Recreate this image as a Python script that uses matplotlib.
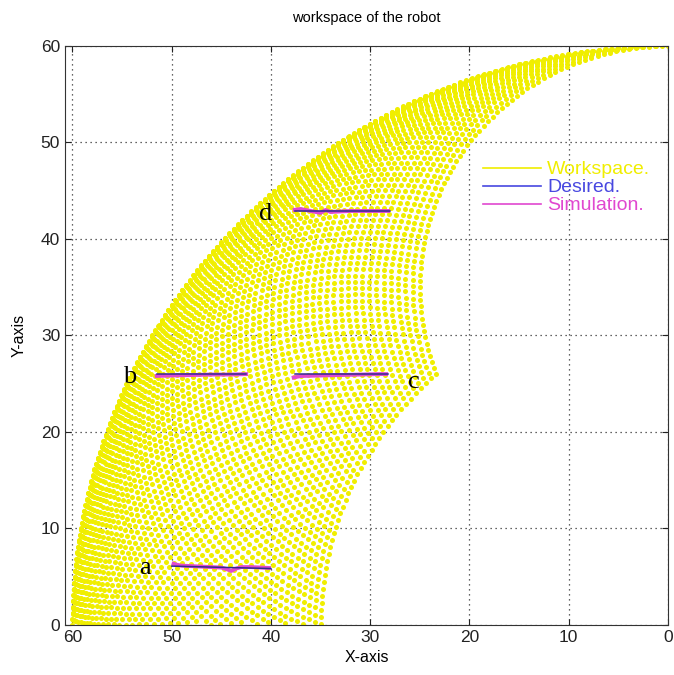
import numpy as np
import matplotlib
matplotlib.use("Agg")
import matplotlib.pyplot as plt

plt.rcParams["font.family"] = ["Liberation Sans", "DejaVu Sans"]

# ── Robot geometry (two-link arm, elbow bending clockwise) ─────────────
L1 = 35.0
L2 = 25.0
THETA1_DEG = np.arange(0.0, 90.01, 1.2)
THETA2_DEG = np.arange(0.0, -111.01, -1.5)

# ── Trajectories: desired (straight) and simulated (tracked) ───────────
a_des_x = [50.0, 40.0]
a_des_y = [6.1, 5.85]
a_sim_x = [50.0, 49.5, 49.0, 48.0, 47.0, 46.0, 45.0, 44.5, 44.0, 43.5, 43.0, 42.0, 41.0, 40.0]
a_sim_y = [6.4, 6.25, 6.15, 6.1, 6.05, 6.0, 5.95, 5.8, 5.6, 5.85, 6.0, 6.0, 5.95, 5.9]

b_des_x = [51.5, 42.5]
b_des_y = [26.0, 26.0]
b_sim_x = [51.7, 50.0, 48.0, 46.0, 44.0, 42.3]
b_sim_y = [25.8, 25.85, 25.9, 25.95, 25.95, 26.0]

c_des_x = [37.6, 28.2]
c_des_y = [26.0, 26.0]
c_sim_x = [37.9, 37.0, 35.0, 33.0, 31.0, 29.0, 28.2]
c_sim_y = [25.6, 25.8, 25.85, 25.9, 25.95, 26.0, 26.0]

d_des_x = [37.6, 28.0]
d_des_y = [42.9, 42.9]
d_sim_x = [37.8, 37.0, 36.0, 35.0, 34.5, 34.0, 33.0, 32.0, 30.0, 28.0]
d_sim_y = [43.0, 43.1, 42.9, 42.7, 43.0, 42.8, 42.85, 42.9, 42.9, 42.9]

point_labels = ["a", "b", "c", "d"]
label_x = [52.7, 54.2, 25.6, 40.5]
label_y = [5.9, 25.7, 25.2, 42.6]

YELLOW = "#f0ee00"
BLUE = "#4848e0"
MAGENTA = "#e048d0"


def workspace(l1, l2, th1_deg, th2_deg):
    """Forward kinematics over the joint grid."""
    t1, t2 = np.meshgrid(np.deg2rad(th1_deg), np.deg2rad(th2_deg))
    x = l1 * np.cos(t1) + l2 * np.cos(t1 + t2)
    y = l1 * np.sin(t1) + l2 * np.sin(t1 + t2)
    keep = y >= 0
    return x[keep], y[keep]


wx, wy = workspace(L1, L2, THETA1_DEG, THETA2_DEG)

fig = plt.figure(figsize=(6.74, 6.75), dpi=100)
ax = fig.add_axes([0.0964, 0.0741, 0.8947, 0.8578])

ax.scatter(wx, wy, s=13, color=YELLOW, linewidths=0, zorder=2)
ax.plot([], [], color=YELLOW, lw=1.2, label="Workspace.")
ax.plot([], [], color=BLUE, lw=1.2, label="Desired.")
ax.plot([], [], color=MAGENTA, lw=1.2, label="Simulation.")

for sx, sy, dx, dy in [(a_sim_x, a_sim_y, a_des_x, a_des_y),
                       (b_sim_x, b_sim_y, b_des_x, b_des_y),
                       (c_sim_x, c_sim_y, c_des_x, c_des_y),
                       (d_sim_x, d_sim_y, d_des_x, d_des_y)]:
    ax.plot(sx, sy, color=MAGENTA, lw=2.8, zorder=3, solid_capstyle="butt")
    ax.plot(dx, dy, color="#302c90", lw=1.1, zorder=4)

for lab, lx, ly in zip(point_labels, label_x, label_y):
    ax.text(lx, ly, lab, fontsize=19, family=["Liberation Serif", "DejaVu Serif"],
            ha="center", va="center", zorder=5)

ax.set_xlim(60.75, 0)
ax.set_ylim(0, 60)
ax.set_xticks([60, 50, 40, 30, 20, 10, 0])
ax.set_yticks([0, 10, 20, 30, 40, 50, 60])
ax.tick_params(direction="in", top=True, right=True, labelsize=12.5, length=4, colors="#222")
ax.grid(True, linestyle=(0, (1, 3)), color="#333", linewidth=0.9)
ax.set_axisbelow(True)
for sp in ax.spines.values():
    sp.set_color("#333")

ax.set_title("workspace of the robot", fontsize=10.5, pad=17)
ax.set_xlabel("X-axis", fontsize=11.5, labelpad=4)
ax.set_ylabel("Y-axis", fontsize=11.5, labelpad=10)

ax.legend(loc="upper left", bbox_to_anchor=(0.68, 0.815), frameon=False,
          fontsize=14, labelcolor="linecolor", handlelength=3.0,
          handletextpad=0.3, labelspacing=0.02, borderaxespad=0)

fig.savefig("out.png", dpi=100)
